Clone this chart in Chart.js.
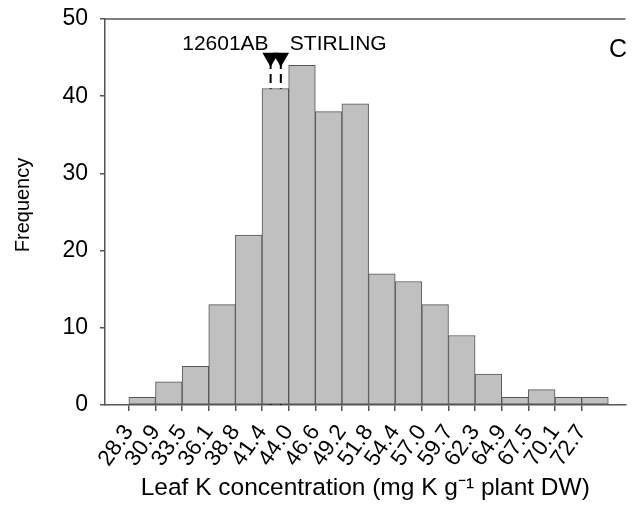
<!DOCTYPE html>
<html>
<head>
<meta charset="utf-8">
<script src="https://cdn.jsdelivr.net/npm/chart.js@4"></script>
<style>
    html, body { margin: 0; padding: 0; background: #fff; }
</style>
</head>
<body>
<canvas id="graficaHistograma" width="635" height="505"></canvas>
<script>
// Datos
const etiquetasBordes = ['28.3', '30.9', '33.5', '36.1', '38.8', '41.4', '44.0', '46.6', '49.2',
    '51.8', '54.4', '57.0', '59.7', '62.3', '64.9', '67.5', '70.1', '72.7'];
const frecuencias = [1, 3, 5, 13, 22, 41, 44, 38, 39, 17, 16, 13, 9, 4, 1, 2, 1, 1];
const ticksY = [0, 10, 20, 30, 40, 50];
const marcadoresNombres = ['12601AB', 'STIRLING'];
const marcadoresValores = [42.2, 43.2];
const marcadorAltura = 45;
const letraPanel = 'C';
const tituloY = 'Frequency';

const fuente = '"Liberation Sans", Arial, sans-serif';
const gris = '#555';

const primerBorde = parseFloat(etiquetasBordes[0]);
const ultimoBorde = parseFloat(etiquetasBordes[etiquetasBordes.length - 1]);
const anchoClase = (ultimoBorde - primerBorde) / (etiquetasBordes.length - 1);
const bordes = etiquetasBordes.map((e, i) => primerBorde + i * anchoClase);
const barras = frecuencias.map((f, i) => ({ x: primerBorde + (i + 0.5) * anchoClase, y: f }));

const lineasMarcador = marcadoresValores.map(v => ({
    type: 'line',
    data: [{ x: v, y: 0 }, { x: v, y: marcadorAltura }],
    borderColor: '#000',
    backgroundColor: '#000',
    borderWidth: 2,
    borderDash: [9, 5],
    pointStyle: 'triangle',
    rotation: 180,
    pointRadius: [0, 9.5],
    pointBorderWidth: 0,
    fill: false
}));

// Textos: marcadores, letra del panel, título Y y línea superior
const textosExtra = {
    id: 'textosExtra',
    afterDatasetsDraw(chart) {
        const ctx = chart.ctx;
        const area = chart.chartArea;
        const x = chart.scales.x;
        ctx.save();
        ctx.strokeStyle = gris;
        ctx.lineWidth = 1.5;
        ctx.beginPath();
        ctx.moveTo(area.left, area.top);
        ctx.lineTo(area.right, area.top);
        ctx.stroke();

        ctx.fillStyle = '#000';
        ctx.font = '21px ' + fuente;
        ctx.textBaseline = 'alphabetic';
        ctx.textAlign = 'right';
        ctx.fillText(marcadoresNombres[0], x.getPixelForValue(marcadoresValores[0]) - 2, 50);
        ctx.textAlign = 'left';
        ctx.fillText(marcadoresNombres[1], x.getPixelForValue(marcadoresValores[1]) + 9, 50);

        ctx.font = '25px ' + fuente;
        ctx.textAlign = 'right';
        ctx.fillText(letraPanel, 627, 57);

        ctx.translate(23, 205);
        ctx.rotate(-Math.PI / 2);
        ctx.font = '20px ' + fuente;
        ctx.textAlign = 'center';
        ctx.textBaseline = 'middle';
        ctx.fillText(tituloY, 0, 0);
        ctx.restore();
    }
};

const ctx = document.getElementById('graficaHistograma').getContext('2d');
new Chart(ctx, {
    type: 'bar',
    data: {
        datasets: [{
            label: 'Frecuencia',
            data: barras,
            backgroundColor: '#c0c0c0',
            borderColor: gris,
            borderWidth: 1,
            borderSkipped: false,
            barPercentage: 1,
            categoryPercentage: 1
        }, ...lineasMarcador]
    },
    options: {
        responsive: false,
        animation: false,
        layout: { padding: { top: 19, right: 0, left: 0, bottom: 0 } },
        plugins: {
            legend: { display: false },
            tooltip: { enabled: false }
        },
        scales: {
            x: {
                type: 'linear',
                min: 25.96,
                max: 77,
                offset: false,
                afterBuildTicks: function (scale) {
                    scale.ticks = bordes.map(v => ({ value: v }));
                },
                afterFit: function (scale) { scale.height = 100; },
                grid: { offset: false, drawOnChartArea: false, tickLength: 6, color: gris, lineWidth: 1.5 },
                border: { color: gris, width: 1.5 },
                ticks: {
                    autoSkip: false,
                    minRotation: 55,
                    maxRotation: 55,
                    padding: 9,
                    color: '#000',
                    font: { family: fuente, size: 22.5 },
                    callback: function (value, index) { return etiquetasBordes[index]; }
                },
                title: {
                    display: true,
                    text: 'Leaf K concentration (mg K g\u207B\u00B9 plant DW)',
                    color: '#000',
                    font: { family: fuente, size: 24.5 },
                    padding: { top: 0, bottom: 2 }
                }
            },
            y: {
                min: 0,
                max: 50,
                afterBuildTicks: function (scale) {
                    scale.ticks = ticksY.map(v => ({ value: v }));
                },
                afterFit: function (scale) {
                    scale.width = 105;
                    scale.paddingTop = 12;
                    scale.paddingBottom = 12;
                },
                grid: { drawOnChartArea: false, tickLength: 5, color: gris, lineWidth: 1.5 },
                border: { color: gris, width: 1.5 },
                ticks: {
                    padding: 12,
                    color: '#000',
                    font: { family: fuente, size: 23 }
                },
                title: { display: false }
            }
        }
    },
    plugins: [textosExtra]
});
</script>
</body>
</html>
